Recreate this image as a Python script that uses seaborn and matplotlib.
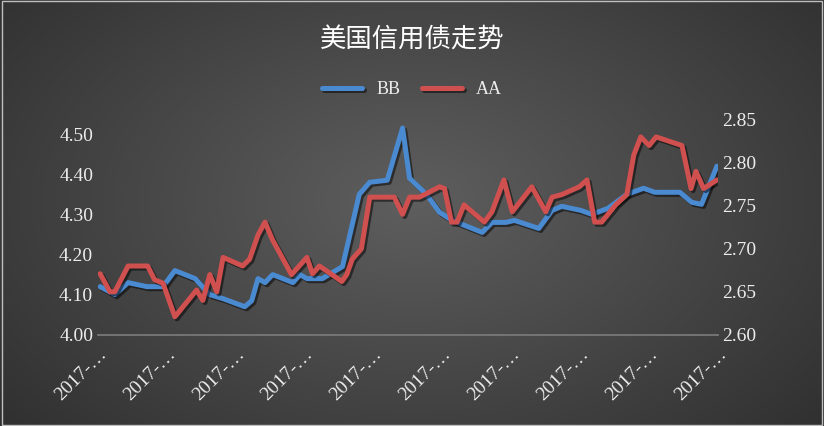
import numpy as np
import pandas as pd
import matplotlib
matplotlib.use("Agg")
import matplotlib.pyplot as plt
import matplotlib.patheffects as pe
import seaborn as sns

# x in weeks from start
bb_x = [0.3,2.4,4.3,7,9.3,11,13.9,16,17.9,21,22,22.9,23.9,25,27.9,28.9,29.9,32.1,35,37.4,38.9,41.4,43.6,44.6,47,48.9,50.7,55,56.4,58.4,59.6,63.1,65,66.4,69.1,70.7,73,75.7,78.1,79.7,83.3,85,86.4,88.6]
bb_y = [4.12,4.10,4.13,4.12,4.12,4.16,4.14,4.10,4.09,4.07,4.085,4.14,4.13,4.15,4.13,4.15,4.14,4.14,4.17,4.35,4.38,4.385,4.515,4.39,4.35,4.305,4.285,4.255,4.28,4.28,4.285,4.265,4.31,4.32,4.31,4.30,4.315,4.35,4.365,4.355,4.355,4.33,4.325,4.42]
aa_x = [0.3,1.7,2.4,4.3,7.1,8.1,9.3,11,14.1,15,16,17,17.9,20.7,21.7,22.9,23.9,25,27.7,29.9,30.7,31.7,34.9,35.6,36.4,37.7,38.9,42.4,43.6,44.6,46,48.9,49.6,50.6,51.4,52.4,55.3,56.4,58.1,59.3,62.1,64.1,65,66.4,68.9,70,71.1,72.1,74.1,75.7,76.7,77.7,78.9,79.9,83.6,84.9,85.6,86.7,88.6]
aa_y = [2.671,2.65,2.65,2.68,2.68,2.664,2.66,2.621,2.652,2.64,2.67,2.65,2.69,2.68,2.688,2.716,2.731,2.71,2.67,2.69,2.671,2.68,2.662,2.67,2.688,2.70,2.76,2.76,2.74,2.76,2.76,2.772,2.77,2.731,2.731,2.751,2.731,2.743,2.78,2.743,2.772,2.743,2.76,2.763,2.772,2.78,2.731,2.731,2.751,2.763,2.809,2.83,2.82,2.83,2.82,2.77,2.79,2.77,2.78]
tick_labels = ["2017-…"] * 10

bb = pd.DataFrame({"x": bb_x, "y": bb_y})
aa = pd.DataFrame({"x": aa_x, "y": aa_y})

sns.set_theme(style="white")
plt.rcParams['font.family'] = ['Liberation Serif', 'Noto Sans CJK SC', 'DejaVu Sans']

fig = plt.figure(figsize=(8.24, 4.26), dpi=100)
bg = fig.add_axes([0, 0, 1, 1])
yy, xx = np.mgrid[0:426, 0:824]
r = np.sqrt(((xx - 412) / 600) ** 2 + ((yy - 200) / 380) ** 2)
img = np.clip(0.37 - 0.2 * r, 0.13, 0.4)
bg.imshow(np.dstack([img, img, img]), extent=[0, 1, 0, 1], aspect='auto')
bg.set_axis_off()
fig.patches.append(plt.Rectangle((0.002, 0.002), 0.996, 0.996, transform=fig.transFigure,
                                 fill=False, ec="#bfbfbf", lw=1))

ax = fig.add_axes([0.119, 0.214, 0.752, 0.509])
ax.patch.set_alpha(0)
ax2 = ax.twinx()
ax2.patch.set_alpha(0)
shadow = [pe.SimpleLineShadow(offset=(1.5, -1.5), shadow_color="black", alpha=0.5), pe.Normal()]
sns.lineplot(data=bb, x="x", y="y", ax=ax, color="#4a8ad0", lw=3.6, label="BB", legend=False)
sns.lineplot(data=aa, x="x", y="y", ax=ax2, color="#d05050", lw=3.6, label="AA", legend=False)
for l in ax.lines + ax2.lines:
    l.set_path_effects(shadow)
    l.set_solid_joinstyle("round")

ax.set_xlim(0, 88.6)
ax.set_ylim(4.0, 4.54)
ax.set_yticks([4.0, 4.1, 4.2, 4.3, 4.4, 4.5])
ax.set_yticklabels([f"{v:.2f}" for v in [4.0, 4.1, 4.2, 4.3, 4.4, 4.5]])
ax2.set_ylim(2.6, 2.852)
ax2.set_yticks([2.6, 2.65, 2.7, 2.75, 2.8, 2.85])
ax2.set_yticklabels([f"{v:.2f}" for v in [2.6, 2.65, 2.7, 2.75, 2.8, 2.85]])
ticks = [k * 69 / 7 for k in range(10)]
ax.set_xticks(ticks)
ax.set_xticklabels(tick_labels, rotation=45, ha="right", rotation_mode="anchor")
for a in (ax, ax2):
    a.set_xlabel(""); a.set_ylabel("")
    for s in a.spines.values():
        s.set_visible(False)
    a.tick_params(colors="#ececec", labelsize=14, length=0)
ax.spines["bottom"].set_visible(True)
ax.spines["bottom"].set_color("#7a7a7a")
ax.tick_params(axis="x", length=5, color="#7a7a7a", direction="out", pad=3)

h = ax.lines[:1] + ax2.lines[:1]
fig.legend(h, ["BB", "AA"], loc="center", bbox_to_anchor=(0.5, 0.79), ncol=2, frameon=False,
           labelcolor="#ececec", fontsize=13, handlelength=2.2, columnspacing=1.2)
fig.text(0.5, 0.905, "美国信用债走势", ha="center", va="center", color="white", fontsize=19,
         family=['Noto Sans CJK SC'])
fig.savefig("out.png", dpi=100)
